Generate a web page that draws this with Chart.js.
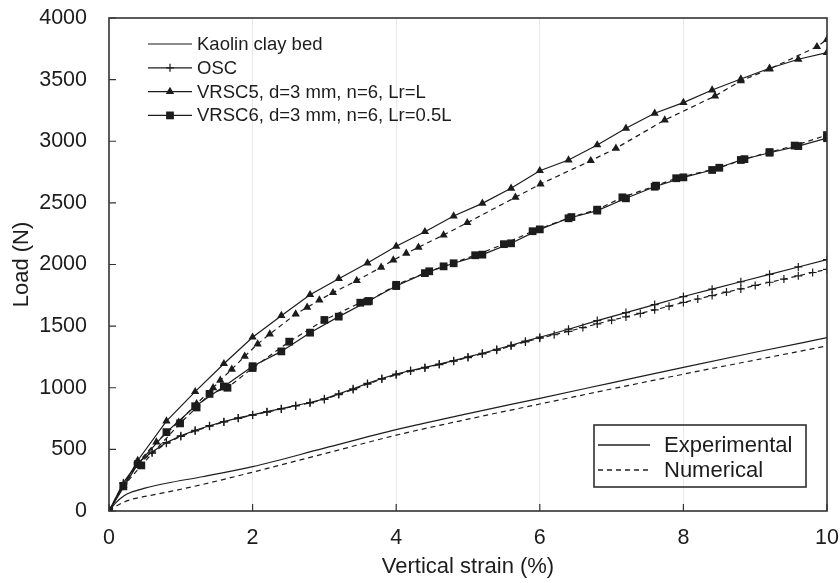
<!DOCTYPE html>
<html>
<head>
<meta charset="utf-8">
<title>Load vs vertical strain</title>
<script src="https://cdn.jsdelivr.net/npm/chart.js@4.4.1/dist/chart.umd.min.js"></script>
<style>
    html, body { margin: 0; padding: 0; background: #fff; }
</style>
</head>
<body>
<canvas id="loadChart" width="840" height="583"></canvas>
<script>
// Series names and line-style legend entries
const seriesNames = ['Kaolin clay bed', 'OSC', 'VRSC5, d=3 mm, n=6, Lr=L', 'VRSC6, d=3 mm, n=6, Lr=0.5L'];
const styleNames = ['Experimental', 'Numerical'];

// Axis ticks
const xTicks = [0, 2, 4, 6, 8, 10];
const yTicks = [0, 500, 1000, 1500, 2000, 2500, 3000, 3500, 4000];

// Kaolin clay bed
const kaolinExpStrain = [0, 0.1, 0.2, 0.3, 0.5, 0.8, 1.3, 2, 3, 4, 5, 6, 7, 8, 9, 10];
const kaolinExpLoad   = [0, 70, 120, 150, 185, 225, 278, 360, 510, 660, 790, 914, 1040, 1166, 1288, 1406];
const kaolinNumStrain = [0, 0.1, 0.2, 0.35, 0.5, 0.8, 1.3, 2, 3, 4, 5, 6, 7, 8, 9, 10];
const kaolinNumLoad   = [0, 40, 70, 100, 118, 152, 215, 315, 465, 615, 745, 868, 990, 1110, 1225, 1340];

// OSC
const oscExpStrain = [0, 0.2, 0.4, 0.6, 0.8, 1.0, 1.2, 1.4, 1.6, 1.8, 2.0, 2.2, 2.4, 2.6, 2.8, 3.0, 3.2, 3.4, 3.6, 3.8, 4.0,
                      4.2, 4.4, 4.6, 4.8, 5.0, 5.2, 5.4, 5.6, 5.8, 6.0, 6.4, 6.8, 7.2, 7.6, 8.0, 8.4, 8.8, 9.2, 9.6, 10];
const oscExpLoad   = [0, 230, 390, 478, 555, 610, 655, 692, 725, 755, 780, 806, 830, 856, 880, 910, 950, 992, 1035, 1075, 1110,
                      1140, 1165, 1192, 1220, 1250, 1280, 1312, 1345, 1378, 1410, 1475, 1545, 1610, 1675, 1740, 1800, 1860, 1920, 1980, 2040];
const oscNumStrain = [0, 0.2, 0.4, 0.6, 0.8, 1.0, 1.2, 1.4, 1.6, 1.8, 2.0, 2.2, 2.4, 2.6, 2.8, 3.0, 3.2, 3.4, 3.6, 3.8, 4.0,
                      4.2, 4.4, 4.6, 4.8, 5.0, 5.2, 5.4, 5.6, 5.8, 6.0, 6.2, 6.4, 6.6, 6.8, 7.0, 7.2, 7.4, 7.6, 7.8, 8.0,
                      8.2, 8.4, 8.6, 8.8, 9.0, 9.2, 9.4, 9.6, 9.8, 10];
const oscNumLoad   = [0, 220, 380, 470, 550, 605, 650, 688, 722, 752, 778, 803, 828, 852, 878, 905, 945, 985, 1030, 1070, 1105,
                      1135, 1160, 1188, 1215, 1245, 1275, 1305, 1338, 1372, 1402, 1430, 1458, 1488, 1518, 1548, 1575, 1603, 1632, 1662, 1692,
                      1720, 1748, 1776, 1802, 1830, 1856, 1882, 1908, 1935, 1960];

// VRSC5
const vrsc5ExpStrain = [0, 0.4, 0.8, 1.2, 1.6, 2.0, 2.4, 2.8, 3.2, 3.6, 4.0, 4.4, 4.8, 5.2, 5.6, 6.0, 6.4, 6.8, 7.2, 7.6, 8.0, 8.4, 8.8, 9.2, 9.6, 10];
const vrsc5ExpLoad   = [0, 410, 730, 968, 1195, 1410, 1585, 1755, 1885, 2012, 2148, 2266, 2393, 2496, 2618, 2761, 2848, 2970, 3105, 3227, 3313, 3416, 3505, 3592, 3665, 3720];
const vrsc5NumStrain = [0, 0.2, 0.4, 0.66, 0.97, 1.22, 1.45, 1.55, 1.71, 1.89, 2.07, 2.24, 2.6, 2.76, 2.93, 3.12, 3.45, 3.79, 3.96, 4.14, 4.31,
                        4.66, 4.99, 5.66, 6.01, 6.71, 7.06, 7.74, 8.44, 8.8, 9.2, 9.86, 10];
const vrsc5NumLoad   = [0, 210, 390, 560, 720, 870, 1000, 1060, 1150, 1255, 1355, 1436, 1598, 1652, 1712, 1771, 1869, 1977, 2036, 2091, 2140,
                        2239, 2339, 2545, 2653, 2842, 2943, 3172, 3367, 3490, 3586, 3767, 3825];

// VRSC6
const vrsc6ExpStrain = [0, 0.4, 0.8, 1.2, 1.6, 2.0, 2.4, 2.8, 3.2, 3.6, 4.0, 4.4, 4.8, 5.2, 5.6, 6.0, 6.4, 6.8, 7.2, 7.6, 8.0, 8.4, 8.8, 9.2, 9.6, 10];
const vrsc6ExpLoad   = [0, 380, 640, 850, 1010, 1175, 1295, 1447, 1577, 1700, 1825, 1930, 2010, 2080, 2172, 2285, 2375, 2437, 2537, 2631, 2707, 2767, 2848, 2907, 2961, 3025];
const vrsc6NumStrain = [0, 0.2, 0.45, 0.99, 1.22, 1.4, 1.65, 2.0, 2.51, 3.0, 3.5, 3.62, 4.0, 4.46, 4.66, 5.1, 5.5, 5.9, 6.44, 6.8, 7.15, 7.62, 7.9, 8.5, 8.85, 9.2, 9.55, 10];
const vrsc6NumLoad   = [0, 200, 370, 711, 840, 950, 1000, 1160, 1374, 1550, 1690, 1704, 1835, 1945, 1985, 2075, 2165, 2270, 2385, 2445, 2545, 2640, 2700, 2785, 2855, 2912, 2965, 3050];

const ink = '#1c1c1c';
const fontFamily = '"Liberation Sans", Arial, sans-serif';

function toPoints(xs, ys) {
    return xs.map((x, i) => ({ x: x, y: ys[i] }));
}

function series(label, xs, ys, dashed, pointStyle, radius) {
    return {
        label: label,
        data: toPoints(xs, ys),
        borderColor: ink,
        backgroundColor: ink,
        borderWidth: 1.2,
        borderDash: dashed ? [5, 4] : [],
        pointStyle: pointStyle || 'circle',
        pointRadius: pointStyle ? radius : 0,
        pointHoverRadius: pointStyle ? radius : 0,
        pointBackgroundColor: ink,
        pointBorderColor: ink,
        pointBorderWidth: pointStyle === 'cross' ? 1.2 : 0,
        cubicInterpolationMode: pointStyle ? 'default' : 'monotone',
        tension: pointStyle ? 0 : 0.4
    };
}

const markerFor = [null, { style: 'cross', r: 4 }, { style: 'triangle', r: 4.8 }, { style: 'rect', r: 5.5 }];

// inward tick marks, plot frame and both legends
const framePlugin = {
    id: 'framePlugin',
    afterDraw(chart) {
        const ctx = chart.ctx;
        const a = chart.chartArea;
        const xs = chart.scales.x, ys = chart.scales.y;
        ctx.save();
        ctx.strokeStyle = '#333';
        ctx.lineWidth = 1.6;
        ctx.setLineDash([]);
        ctx.strokeRect(a.left, a.top, a.right - a.left, a.bottom - a.top);

        ctx.lineWidth = 1.2;
        ctx.beginPath();
        yTicks.forEach(v => {
            const py = ys.getPixelForValue(v);
            ctx.moveTo(a.left, py);
            ctx.lineTo(a.left + 7, py);
        });
        xTicks.forEach(v => {
            const px = xs.getPixelForValue(v);
            ctx.moveTo(px, a.bottom);
            ctx.lineTo(px, a.bottom - 7);
        });
        ctx.stroke();

        // series legend, top left
        ctx.font = '18.5px ' + fontFamily;
        ctx.textBaseline = 'middle';
        ctx.fillStyle = ink;
        ctx.strokeStyle = ink;
        seriesNames.forEach((name, i) => {
            const y = a.top + 26 + i * 23.8;
            const x0 = a.left + 39, x1 = a.left + 83;
            ctx.lineWidth = 1.2;
            ctx.beginPath();
            ctx.moveTo(x0, y);
            ctx.lineTo(x1, y);
            ctx.stroke();
            const m = markerFor[i];
            if (m) {
                Chart.helpers.drawPoint(ctx, {
                    pointStyle: m.style, radius: m.r, rotation: 0,
                    borderWidth: m.style === 'cross' ? 1.2 : 0
                }, (x0 + x1) / 2, y);
            }
            ctx.fillText(name, x1 + 5, y + 1);
        });

        // line-style legend, bottom right
        const bx0 = a.right - 233, bx1 = a.right - 21;
        const by0 = a.bottom - 86, by1 = a.bottom - 24;
        ctx.lineWidth = 1.5;
        ctx.strokeStyle = '#222';
        ctx.strokeRect(bx0, by0, bx1 - bx0, by1 - by0);
        ctx.font = '22px ' + fontFamily;
        styleNames.forEach((name, i) => {
            const y = by0 + 20 + i * 25;
            ctx.lineWidth = 1.3;
            ctx.setLineDash(i === 0 ? [] : [5, 4]);
            ctx.beginPath();
            ctx.moveTo(bx0 + 4, y);
            ctx.lineTo(bx0 + 56, y);
            ctx.stroke();
            ctx.setLineDash([]);
            ctx.fillText(name, bx0 + 70, y + 1);
        });
        ctx.restore();
    }
};

const ctx = document.getElementById('loadChart').getContext('2d');
const loadChart = new Chart(ctx, {
    type: 'line',
    data: {
        datasets: [
            series(seriesNames[0], kaolinExpStrain, kaolinExpLoad, false),
            series(seriesNames[0], kaolinNumStrain, kaolinNumLoad, true),
            series(seriesNames[1], oscExpStrain, oscExpLoad, false, 'cross', 4),
            series(seriesNames[1], oscNumStrain, oscNumLoad, true, 'cross', 4),
            series(seriesNames[2], vrsc5ExpStrain, vrsc5ExpLoad, false, 'triangle', 4.8),
            series(seriesNames[2], vrsc5NumStrain, vrsc5NumLoad, true, 'triangle', 4.8),
            series(seriesNames[3], vrsc6ExpStrain, vrsc6ExpLoad, false, 'rect', 5.5),
            series(seriesNames[3], vrsc6NumStrain, vrsc6NumLoad, true, 'rect', 5.5)
        ]
    },
    options: {
        responsive: false,
        animation: false,
        events: [],
        layout: { padding: 0 },
        plugins: {
            legend: { display: false },
            tooltip: { enabled: false }
        },
        scales: {
            x: {
                type: 'linear',
                min: 0,
                max: 10,
                afterFit(scale) {
                    scale.height = 72;
                    scale.paddingLeft = 0;
                    scale.paddingRight = 13;
                },
                afterBuildTicks(scale) { scale.ticks = xTicks.map(v => ({ value: v })); },
                grid: {
                    drawTicks: false,
                    color: c => (c.tick && c.tick.value > 0 && c.tick.value < 10) ? '#e8e8e8' : 'rgba(0,0,0,0)',
                    lineWidth: 1
                },
                border: { display: false },
                ticks: {
                    padding: 14,
                    color: ink,
                    font: { family: fontFamily, size: 21.5 },
                    callback: v => String(v)
                },
                title: {
                    display: true,
                    text: 'Vertical strain (%)',
                    color: ink,
                    font: { family: fontFamily, size: 22 },
                    padding: { top: 0, bottom: 3 }
                }
            },
            y: {
                type: 'linear',
                min: 0,
                max: 4000,
                afterFit(scale) {
                    scale.width = 109;
                    scale.paddingTop = 18;
                    scale.paddingBottom = 0;
                },
                afterBuildTicks(scale) { scale.ticks = yTicks.map(v => ({ value: v })); },
                grid: { display: false, drawTicks: false },
                border: { display: false },
                ticks: {
                    padding: 22,
                    color: ink,
                    font: { family: fontFamily, size: 21.5 },
                    callback: v => String(v)
                },
                title: {
                    display: true,
                    text: 'Load (N)',
                    color: ink,
                    font: { family: fontFamily, size: 22 },
                    padding: { top: 9, bottom: 0 }
                }
            }
        }
    },
    plugins: [framePlugin]
});
</script>
</body>
</html>
